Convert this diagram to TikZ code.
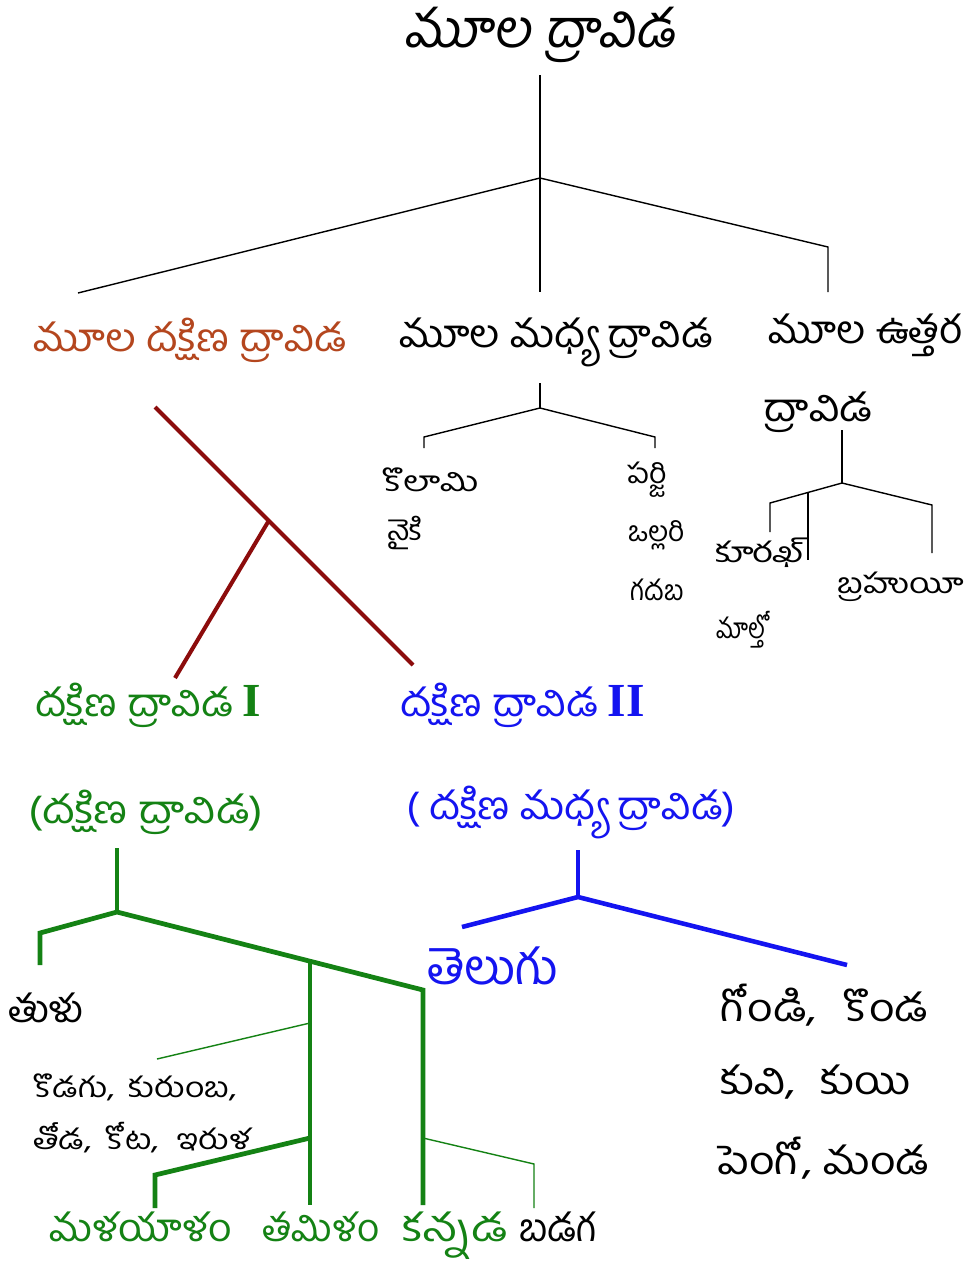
\documentclass[tikz,border=0pt]{standalone}
\usepackage{graphicx}
\usepackage{fontspec}
\newfontfamily\tel[Script=Telugu]{Hind Guntur}
\newfontfamily\telit[Script=Telugu,FakeSlant=0.15]{Hind Guntur}
\newfontfamily\romanf{Liberation Serif}
\newcommand\sx[2]{\scalebox{#1}[1]{#2}}
\newcommand\gap{\hspace{0.55em}}
\definecolor{brownlbl}{RGB}{180,70,30}
\definecolor{maroonln}{RGB}{140,12,12}
\definecolor{grn}{RGB}{20,130,20}
\definecolor{blu}{RGB}{20,20,240}
\tikzset{
  lbl/.style={font=\tel\fontsize{22}{26}\selectfont, inner sep=0pt, text=black},
  sml/.style={font=\tel\fontsize{16}{19}\selectfont, inner sep=0pt, text=black, anchor=west},
  botlbl/.style={lbl, anchor=base, text height=14pt, text depth=4pt},
  thinblk/.style={draw=black, line width=0.8pt},
  mrn/.style={draw=maroonln, line width=2.3pt},
  gthick/.style={draw=grn, line width=2.7pt},
  gthin/.style={draw=grn, line width=0.8pt},
  bthick/.style={draw=blu, line width=2.6pt},
}
\newcommand\romI[1]{{\romanf\bfseries\fontsize{27}{30}\selectfont #1}}
\begin{document}
\begin{tikzpicture}[x=0.02cm,y=-0.02cm]
\useasboundingbox[fill=white] (0,0) rectangle (964,1272);
% ---------- texts ----------
\node[lbl, font=\telit\fontsize{30}{34}\selectfont] (root) at (540,35) {మూల ద్రావిడ};
\node[lbl, text=brownlbl] (psd) at (190,340) {\sx{1.11}{మూల దక్షిణ ద్రావిడ}};
\node[lbl] (pcd) at (556,342) {\sx{1.09}{మూల మధ్య ద్రావిడ}};
\node[lbl] (pnd1) at (865,335) {\sx{1.05}{మూల ఉత్తర}};
\node[lbl] (pnd2) at (818,412) {\sx{1.13}{ద్రావిడ}};
\node[sml] (kolami) at (382,480) {\sx{1.3}{కొలామి}};
\node[sml] (naiki) at (387,533) {\sx{1.1}{నైకి}};
\node[sml] (parji) at (627,480) {\sx{1.08}{పర్జి}};
\node[sml] (ollari) at (628,535) {ఒల్లరి};
\node[sml] (gadaba) at (630,590) {\sx{0.95}{గదబ}};
\node[sml] (kurukh) at (715,553) {\sx{1.3}{కూరఖ్}};
\node[sml] (malto) at (716,630) {\sx{0.85}{మాల్తో}};
\node[sml] (brahui) at (837,587) {\sx{1.25}{బ్రహుయీ}};
\node[lbl, text=grn, anchor=west] (sd1) at (35,705) {\sx{1.1}{దక్షిణ ద్రావిడ} \romI{I}};
\node[lbl, text=blu, anchor=west] (sd2) at (400,705) {\sx{1.1}{దక్షిణ ద్రావిడ} \romI{II}};
\node[lbl, text=grn] (sd1b) at (146,812) {\sx{1.15}{(దక్షిణ ద్రావిడ)}};
\node[lbl, text=blu] (sd2b) at (571,812) {\sx{1.09}{( దక్షిణ మధ్య ద్రావిడ)}};
\node[lbl, text=blu, font=\tel\fontsize{28}{32}\selectfont] (telugu) at (493,966) {తెలుగు};
\node[lbl, anchor=west] (gondi) at (720,1005) {\sx{1.15}{గోండి,\hspace{0.6em}కొండ}};
\node[lbl, anchor=west] (kuvi) at (720,1082) {\sx{1.15}{కువి,\gap కుయి}};
\node[lbl, anchor=west] (pengo) at (717,1158) {\sx{1.15}{పెంగో,\hspace{0.25em}మండ}};
\node[lbl] (tulu) at (46,1008) {తుళు};
\node[sml] (kodagu) at (33,1087) {\sx{1.2}{కొడగు,\hspace{0.4em}కురుంబ,}};
\node[sml] (toda) at (33,1138) {\sx{1.2}{తోడ,\hspace{0.4em}కోట,\gap ఇరుళ}};
\node[botlbl, text=grn] (mal) at (141,1241) {\sx{1.06}{మళయాళం}};
\node[botlbl, text=grn] (tam) at (321,1241) {తమిళం};
\node[botlbl, text=grn] (kan) at (455,1241) {\sx{1.25}{కన్నడ}};
\node[botlbl] (bad) at (558,1241) {బడగ};
% ---------- coordinates ----------
\coordinate (rTop) at (540,75);
\coordinate (rJ) at (540,178);
\coordinate (rL) at (78,293);
\coordinate (rM) at (540,292);
\coordinate (rR1) at (828,247);
\coordinate (rR2) at (828,292);
\coordinate (cTop) at (540,383);
\coordinate (cJ) at (540,408);
\coordinate (cL1) at (424,437);
\coordinate (cL2) at (424,448);
\coordinate (cR1) at (655,437);
\coordinate (cR2) at (655,448);
\coordinate (nTop) at (842,430);
\coordinate (nJ) at (842,483);
\coordinate (nL1) at (770,503);
\coordinate (nL2) at (770,532);
\coordinate (nM1) at (808,493);
\coordinate (nM2) at (808,560);
\coordinate (nR1) at (932,505);
\coordinate (nR2) at (932,553);
\coordinate (sTop) at (155,407);
\coordinate (sJ) at (268,522);
\coordinate (sEnd) at (413,665);
\coordinate (sL) at (175,678);
\coordinate (gTop) at (117,848);
\coordinate (gJ) at (117,912);
\coordinate (gL1) at (40,933);
\coordinate (gL2) at (40,965);
\coordinate (gJ2) at (310,963);
\coordinate (gR) at (423,990);
\coordinate (gK1) at (310,1023);
\coordinate (gK2) at (157,1059);
\coordinate (gM1) at (310,1138);
\coordinate (gM2) at (155,1175);
\coordinate (gM3) at (155,1208);
\coordinate (gT) at (310,1205);
\coordinate (gKn) at (423,1205);
\coordinate (gB1) at (423,1138);
\coordinate (gB2) at (534,1164);
\coordinate (gB3) at (534,1208);
\coordinate (bTop) at (578,850);
\coordinate (bJ) at (578,897);
\coordinate (bL) at (462,927);
\coordinate (bR) at (847,965);
% ---------- connectors ----------
\draw[thinblk] (rTop) -- (rM);
\draw[thinblk] (rL) -- (rJ) -- (rR1) -- (rR2);
\draw[thinblk] (cTop) -- (cJ);
\draw[thinblk] (cL2) -- (cL1) -- (cJ) -- (cR1) -- (cR2);
\draw[thinblk] (nTop) -- (nJ);
\draw[thinblk] (nL2) -- (nL1) -- (nJ) -- (nR1) -- (nR2);
\draw[thinblk] (nM1) -- (nM2);
\draw[mrn] (sTop) -- (sEnd);
\draw[mrn] (sJ) -- (sL);
\draw[gthick, line join=miter] (gTop) -- (gJ);
\draw[gthick, line join=miter] (gL2) -- (gL1) -- (gJ) -- (gR) -- (gKn);
\draw[gthick] (gJ2) -- (gT);
\draw[gthick, line join=miter] (gM1) -- (gM2) -- (gM3);
\draw[gthin] (gK1) -- (gK2);
\draw[gthin] (gB1) -- (gB2) -- (gB3);
\draw[bthick] (bTop) -- (bJ);
\draw[bthick] (bL) -- (bJ) -- (bR);
\end{tikzpicture}
\end{document}
